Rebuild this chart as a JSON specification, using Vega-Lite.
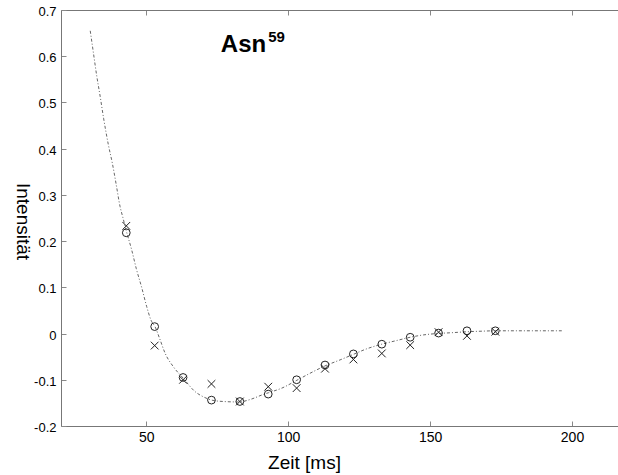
{
  "$schema": "https://vega.github.io/schema/vega-lite/v6.json",
  "width": 557,
  "height": 416,
  "autosize": {"type": "none"},
  "padding": {"left": 61, "top": 10, "right": 0, "bottom": 49},
  "background": "white",
  "config": {
    "view": {"stroke": null},
    "font": "Liberation Sans",
    "axis": {"grid": false, "labelFlush": false, "labelOverlap": false, "labelBound": false}
  },
  "datasets": {
    "kurve": [
      {"t": 30.3, "value": 0.655},
      {"t": 31.4, "value": 0.608},
      {"t": 32.6, "value": 0.557},
      {"t": 33.8, "value": 0.513},
      {"t": 35.0, "value": 0.466},
      {"t": 36.7, "value": 0.408},
      {"t": 38.1, "value": 0.368},
      {"t": 39.4, "value": 0.324},
      {"t": 40.8, "value": 0.275},
      {"t": 41.8, "value": 0.251},
      {"t": 43.0, "value": 0.222},
      {"t": 44.9, "value": 0.181},
      {"t": 46.5, "value": 0.141},
      {"t": 48.5, "value": 0.098},
      {"t": 50.2, "value": 0.058},
      {"t": 51.7, "value": 0.029},
      {"t": 53.2, "value": 0.014},
      {"t": 54.7, "value": -0.010},
      {"t": 56.7, "value": -0.043},
      {"t": 59.6, "value": -0.072},
      {"t": 63.1, "value": -0.097},
      {"t": 67.3, "value": -0.126},
      {"t": 70.2, "value": -0.137},
      {"t": 73.1, "value": -0.144},
      {"t": 77.2, "value": -0.147},
      {"t": 82.5, "value": -0.148},
      {"t": 87.2, "value": -0.1415},
      {"t": 90.7, "value": -0.133},
      {"t": 93.1, "value": -0.128},
      {"t": 97.8, "value": -0.118},
      {"t": 103.1, "value": -0.101},
      {"t": 107.7, "value": -0.086},
      {"t": 113.0, "value": -0.070},
      {"t": 118.3, "value": -0.057},
      {"t": 123.0, "value": -0.045},
      {"t": 127.7, "value": -0.033},
      {"t": 133.0, "value": -0.023},
      {"t": 138.3, "value": -0.015},
      {"t": 143.0, "value": -0.008},
      {"t": 147.6, "value": -0.003},
      {"t": 152.4, "value": 0.000},
      {"t": 158.1, "value": 0.002},
      {"t": 163.2, "value": 0.004},
      {"t": 167.6, "value": 0.005},
      {"t": 173.2, "value": 0.006},
      {"t": 180.0, "value": 0.006},
      {"t": 188.0, "value": 0.006},
      {"t": 196.4, "value": 0.006}
    ],
    "punkte": [
      {"t": 43, "value": 0.218, "serie": "Kreis"},
      {"t": 53, "value": 0.015, "serie": "Kreis"},
      {"t": 63, "value": -0.095, "serie": "Kreis"},
      {"t": 73, "value": -0.144, "serie": "Kreis"},
      {"t": 83, "value": -0.147, "serie": "Kreis"},
      {"t": 93, "value": -0.131, "serie": "Kreis"},
      {"t": 103, "value": -0.100, "serie": "Kreis"},
      {"t": 113, "value": -0.068, "serie": "Kreis"},
      {"t": 123, "value": -0.044, "serie": "Kreis"},
      {"t": 133, "value": -0.023, "serie": "Kreis"},
      {"t": 143, "value": -0.008, "serie": "Kreis"},
      {"t": 153, "value": 0.001, "serie": "Kreis"},
      {"t": 163, "value": 0.006, "serie": "Kreis"},
      {"t": 173, "value": 0.006, "serie": "Kreis"},
      {"t": 43, "value": 0.233, "serie": "Kreuz"},
      {"t": 53, "value": -0.026, "serie": "Kreuz"},
      {"t": 63, "value": -0.100, "serie": "Kreuz"},
      {"t": 73, "value": -0.109, "serie": "Kreuz"},
      {"t": 83, "value": -0.147, "serie": "Kreuz"},
      {"t": 93, "value": -0.115, "serie": "Kreuz"},
      {"t": 103, "value": -0.118, "serie": "Kreuz"},
      {"t": 113, "value": -0.076, "serie": "Kreuz"},
      {"t": 123, "value": -0.056, "serie": "Kreuz"},
      {"t": 133, "value": -0.043, "serie": "Kreuz"},
      {"t": 143, "value": -0.025, "serie": "Kreuz"},
      {"t": 153, "value": 0.003, "serie": "Kreuz"},
      {"t": 163, "value": -0.005, "serie": "Kreuz"},
      {"t": 173, "value": 0.004, "serie": "Kreuz"}
    ]
  },
  "resolve": {"axis": {"x": "independent", "y": "independent"}},
  "layer": [
    {
      "data": {"name": "kurve"},
      "mark": {"type": "line", "color": "#555", "strokeWidth": 0.9, "strokeDash": [3, 2, 1, 2], "interpolate": "monotone"},
      "encoding": {
        "x": {
          "field": "t", "type": "quantitative",
          "scale": {"domain": [20, 216.2], "nice": false, "zero": false},
          "axis": {
            "orient": "bottom", "values": [50, 100, 150, 200],
            "tickSize": -5, "tickColor": "#888", "domainColor": "#777",
            "labelFontSize": 14, "labelColor": "black", "labelPadding": 9,
            "title": "Zeit [ms]", "titleFontSize": 19, "titleFontWeight": "normal", "titleColor": "black",
            "titleX": 243, "titleY": 42, "titleBaseline": "alphabetic", "titleAlign": "center"
          }
        },
        "y": {
          "field": "value", "type": "quantitative",
          "scale": {"domain": [-0.2, 0.7], "nice": false, "zero": false},
          "axis": {
            "orient": "left",
            "values": [-0.2, -0.1, 0, 0.1, 0.2, 0.3, 0.4, 0.5, 0.6, 0.7],
            "format": ".1~f",
            "labelExpr": "replace(datum.label, '\u2212', '-')",
            "tickSize": -5, "tickColor": "#888", "domainColor": "#777",
            "labelFontSize": 13, "labelColor": "black", "labelPadding": 10, "labelOffset": 1.5,
            "title": "Intensität", "titleFontSize": 19, "titleFontWeight": "normal", "titleColor": "black",
            "titleAngle": 90, "titleX": -45, "titleY": 211, "titleBaseline": "alphabetic", "titleAlign": "center"
          }
        }
      }
    },
    {
      "data": {"name": "punkte"},
      "mark": {"type": "point", "filled": false, "strokeWidth": 1, "size": 60, "color": "#222", "opacity": 1},
      "encoding": {
        "x": {
          "field": "t", "type": "quantitative",
          "axis": {
            "orient": "top", "values": [50, 100, 150, 200], "labels": false,
            "tickSize": -5, "tickColor": "#888", "domainColor": "#777", "title": null
          }
        },
        "y": {"field": "value", "type": "quantitative", "axis": null},
        "shape": {
          "field": "serie", "type": "nominal",
          "scale": {"domain": ["Kreis", "Kreuz"], "range": ["circle", "M-1,-1L1,1M-1,1L1,-1"]},
          "legend": null
        }
      }
    },
    {
      "data": {"values": [{"label": "Asn"}]},
      "mark": {"type": "text", "align": "left", "baseline": "alphabetic", "fontSize": 24, "fontWeight": "bold", "color": "black"},
      "encoding": {
        "x": {"datum": 76.3, "type": "quantitative", "axis": null},
        "y": {"datum": 0.61, "type": "quantitative", "axis": null},
        "text": {"field": "label"}
      }
    },
    {
      "data": {"values": [{"label": "59"}]},
      "mark": {"type": "text", "align": "left", "baseline": "alphabetic", "fontSize": 15, "fontWeight": "bold", "color": "black"},
      "encoding": {
        "x": {"datum": 93.0, "type": "quantitative", "axis": null},
        "y": {"datum": 0.6315, "type": "quantitative", "axis": null},
        "text": {"field": "label"}
      }
    }
  ]
}
